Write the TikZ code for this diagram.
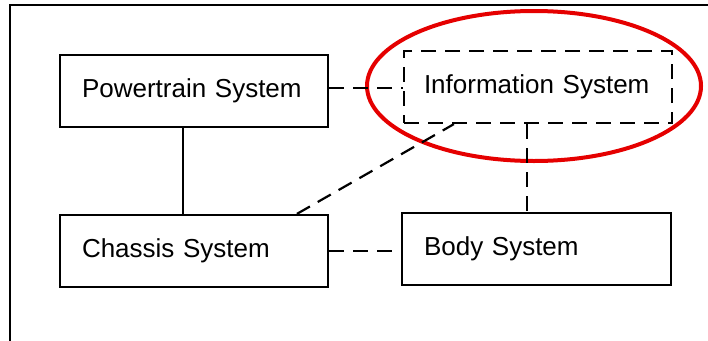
\documentclass[tikz,border=0pt]{standalone}
\usepackage{fontspec}
\setmainfont{Liberation Sans}
\usetikzlibrary{calc}
\begin{document}
\begin{tikzpicture}[x=1pt,y=-1pt,
  sysbox/.style={draw, line width=2.2pt, minimum height=72pt, text width=224pt,
    inner xsep=22pt, inner ysep=0pt, align=left,
    font=\fontsize{26}{30}\selectfont},
  link/.style={line width=2.2pt},
  dlink/.style={line width=2.2pt, dash pattern=on 15pt off 9pt}]
  \useasboundingbox (0,0) rectangle (708,340);
  % outer frame
  \draw[line width=2pt] (10,342) -- (10,5) -- (710,5);
  % highlight ellipse
  \draw[red!90!black, line width=4pt] (534,86) ellipse [x radius=167, y radius=75];
  % subsystem boxes
  \node[sysbox] (pt) at (194,91) {Powertrain System};
  \node[sysbox] (ch) at (194,251) {Chassis System};
  \node[sysbox, text width=225pt] (body) at (536.5,249) {Body System};
  \node[sysbox, dlink, inner xsep=20pt, text width=228pt] (info) at (538,87) {Information System};
  % connections
  \draw[link] ([xshift=124]pt.south west) -- ([xshift=124]ch.north west);
  \draw[dlink] (pt.east |- 0,88) -- (info.west |- 0,88);
  \draw[dlink] (ch.east) -- (body.west |- ch.east);
  \draw[dlink] ([xshift=124]info.south west) -- ([xshift=124]info.south west |- body.north);
  \draw[dlink] ([xshift=238]ch.north west) -- ([xshift=51]info.south west);
\end{tikzpicture}
\end{document}
